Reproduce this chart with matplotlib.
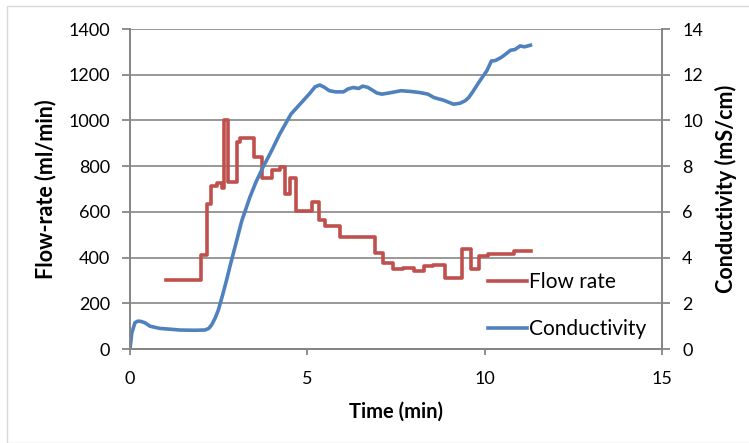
import numpy as np
import matplotlib.pyplot as plt
from matplotlib.patches import Rectangle

# flow rate steps (time in min, ml/min), value holds until next time
flow_t = [1.01, 2.0, 2.16, 2.28, 2.44, 2.58, 2.66, 2.77, 3.02, 3.11, 3.51, 3.73,
          4.01, 4.22, 4.38, 4.52, 4.67, 5.14, 5.32, 5.49, 5.93, 6.90, 7.13, 7.41,
          7.71, 8.02, 8.30, 8.54, 8.87, 9.36, 9.61, 9.85, 10.09, 10.84, 11.30]
flow_v = [300, 413, 635, 711, 727, 705, 1003, 731, 904, 924, 842, 747,
          785, 798, 676, 749, 605, 645, 566, 536, 488, 422, 378, 348,
          356, 340, 363, 368, 311, 436, 349, 406, 414, 427, 427]

# conductivity (mS/cm)
cond_t = [0.0, 0.05, 0.14, 0.22, 0.30, 0.42, 0.56, 0.70, 0.84, 1.1, 1.41, 1.8,
          2.11, 2.22, 2.30, 2.40, 2.49, 2.60, 2.72, 2.84, 2.96, 3.15, 3.38, 3.55,
          3.75, 4.0, 4.22, 4.54, 4.88, 5.05, 5.22, 5.35, 5.48, 5.62, 5.80, 6.02,
          6.15, 6.29, 6.45, 6.56, 6.70, 6.83, 6.96, 7.10, 7.30, 7.64, 7.90, 8.17,
          8.40, 8.57, 8.85, 9.12, 9.30, 9.45, 9.55, 9.65, 9.85, 10.06, 10.19, 10.30,
          10.46, 10.55, 10.73, 10.85, 11.0, 11.12, 11.29]
cond_v = [0.0, 0.7, 1.15, 1.22, 1.21, 1.15, 1.0, 0.95, 0.9, 0.87, 0.83, 0.82,
          0.83, 0.9, 1.05, 1.35, 1.7, 2.3, 3.0, 3.75, 4.46, 5.6, 6.64, 7.3,
          7.95, 8.7, 9.4, 10.28, 10.86, 11.15, 11.47, 11.55, 11.45, 11.3, 11.25, 11.25,
          11.38, 11.44, 11.4, 11.5, 11.45, 11.33, 11.2, 11.15, 11.2, 11.3, 11.27, 11.22,
          11.15, 11.0, 10.88, 10.71, 10.75, 10.86, 11.0, 11.22, 11.7, 12.17, 12.6, 12.62,
          12.75, 12.85, 13.07, 13.1, 13.26, 13.22, 13.29]

plt.rcParams['font.family'] = ['Lato', 'DejaVu Sans']
grey = '#868686'
W, H = 749, 443

fig = plt.figure(figsize=(W / 100, H / 100), dpi=100)
fig.patches.append(Rectangle((7 / W, 0), 1, 1 - 6 / H, transform=fig.transFigure,
                             fill=False, edgecolor='#d9d9d9', linewidth=1))
ax = fig.add_axes([130 / W, 1 - 349 / H, 532 / W, 320 / H])
ax2 = ax.twinx()

l1, = ax.step(flow_t, flow_v, where='post', color='#c0504d', linewidth=2.6,
              label='Flow rate')
l2, = ax2.plot(cond_t, cond_v, color='#4f81bd', linewidth=2.6, label='Conductivity')

ax.set_xlim(0, 15)
ax.set_ylim(0, 1400)
ax2.set_ylim(0, 14)
ax.set_xticks([0, 5, 10, 15])
ax.set_yticks(np.arange(0, 1401, 200))
ax2.set_yticks(np.arange(0, 15, 2))
ax.yaxis.grid(True, color=grey, linewidth=1.2)
ax.set_axisbelow(True)

for a in (ax, ax2):
    for s in a.spines.values():
        s.set_color(grey)
        s.set_linewidth(1.3)
    a.tick_params(colors=grey, labelcolor='black', labelsize=13, length=5.5,
                  width=1.3, pad=9)
ax.spines['top'].set_visible(False)
ax2.spines['top'].set_visible(False)
ax.tick_params(axis='x', length=4.5, pad=11)

# axis titles placed where the reference has them
fig.text(396 / W, 1 - 412 / H, 'Time (min)', fontsize=14.5, fontweight='bold',
         ha='center', va='center')
fig.text(46 / W, 1 - 189 / H, 'Flow-rate (ml/min)', fontsize=15.5, fontweight='bold',
         rotation=90, ha='center', va='center')
fig.text(726 / W, 1 - 189 / H, 'Conductivity (mS/cm)', fontsize=15.5, fontweight='bold',
         rotation=90, ha='center', va='center')

ax2.legend([l1, l2], ['Flow rate', 'Conductivity'], loc='lower left',
           bbox_to_anchor=(0.672, 0.03), frameon=False, fontsize=15,
           handlelength=1.9, handletextpad=0.1, labelspacing=1.3,
           borderpad=0, borderaxespad=0)

fig.savefig('out.png', dpi=100)
